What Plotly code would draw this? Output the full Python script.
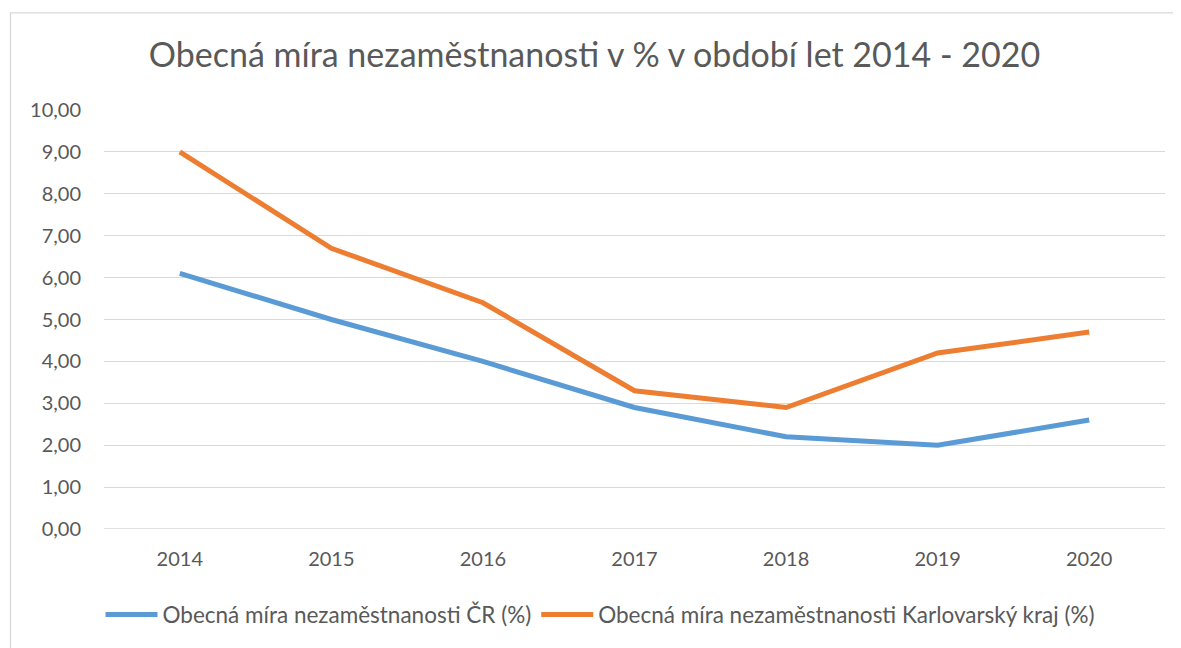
import plotly.graph_objects as go

years = ["2014", "2015", "2016", "2017", "2018", "2019", "2020"]
cr = [6.1, 5.0, 4.0, 2.9, 2.2, 2.0, 2.6]
kv = [9.0, 6.7, 5.4, 3.3, 2.9, 4.2, 4.7]
yticks = [0, 1, 2, 3, 4, 5, 6, 7, 8, 9, 10]
ytick_labels = ["0,00", "1,00", "2,00", "3,00", "4,00", "5,00", "6,00", "7,00", "8,00", "9,00", "10,00"]

FONT = "Lato"
GRAY = "#595959"
FS = 20

fig = go.Figure()
fig.add_trace(go.Scatter(x=years, y=cr, mode="lines", name="Obecná míra nezaměstnanosti ČR (%)",
                         line=dict(color="#5B9BD5", width=5)))
fig.add_trace(go.Scatter(x=years, y=kv, mode="lines", name="Obecná míra nezaměstnanosti Karlovarský kraj (%)",
                         line=dict(color="#ED7D31", width=5)))

# page has an 8px body margin; figure coordinates = page - 8
OFF = 8
W, H = 1181 - OFF, 648 - OFF
L, T = 104 - OFF, 110 - OFF
R = W - (1165 - OFF)
B = H - (535 - OFF)
pw = W - L - R
ph = H - T - B

def px(xpage):
    return (xpage - OFF - L) / pw

def py(ypage):
    return (H - B - (ypage - OFF)) / ph

fig.update_layout(
    width=W, height=H,
    margin=dict(l=L, r=R, t=T, b=B),
    paper_bgcolor="white", plot_bgcolor="white",
    font=dict(family=FONT, color=GRAY, size=FS),
    title=dict(text="Obecná míra nezaměstnanosti v % v období let 2014 - 2020",
               x=0.5, xanchor="center", y=1 - (55 - OFF) / H, yanchor="middle",
               font=dict(family=FONT, size=34, color=GRAY)),
    showlegend=True,
    legend=dict(orientation="h", x=px(600), xanchor="center", y=py(622), yanchor="middle",
                font=dict(family=FONT, size=22.5, color=GRAY), itemwidth=52,
                bgcolor="rgba(0,0,0,0)"),
    xaxis=dict(type="category", range=[-0.5, 6.5], showgrid=False, showline=False, zeroline=False,
               ticks="", ticklabelstandoff=16, tickfont=dict(size=FS, color=GRAY), fixedrange=True),
    yaxis=dict(range=[0, 10], tickvals=yticks, ticktext=ytick_labels, showgrid=True,
               gridcolor="#D9D9D9", gridwidth=1.3, zeroline=False, showline=False,
               ticks="", ticklabelstandoff=22, tickfont=dict(size=FS, color=GRAY), fixedrange=True),
    shapes=[
        dict(type="line", xref="paper", yref="paper", x0=px(10), x1=px(1190), y0=py(11.5), y1=py(11.5),
             line=dict(color="#D9D9D9", width=1.3)),
        dict(type="line", xref="paper", yref="paper", x0=px(10.5), x1=px(10.5), y0=py(11), y1=py(660),
             line=dict(color="#D9D9D9", width=1.3)),
        dict(type="line", xref="paper", yref="y", x0=0, x1=1, y0=0, y1=0,
             line=dict(color="#D9D9D9", width=1.3), layer="below"),
    ],
)

fig.write_html("out.html")
